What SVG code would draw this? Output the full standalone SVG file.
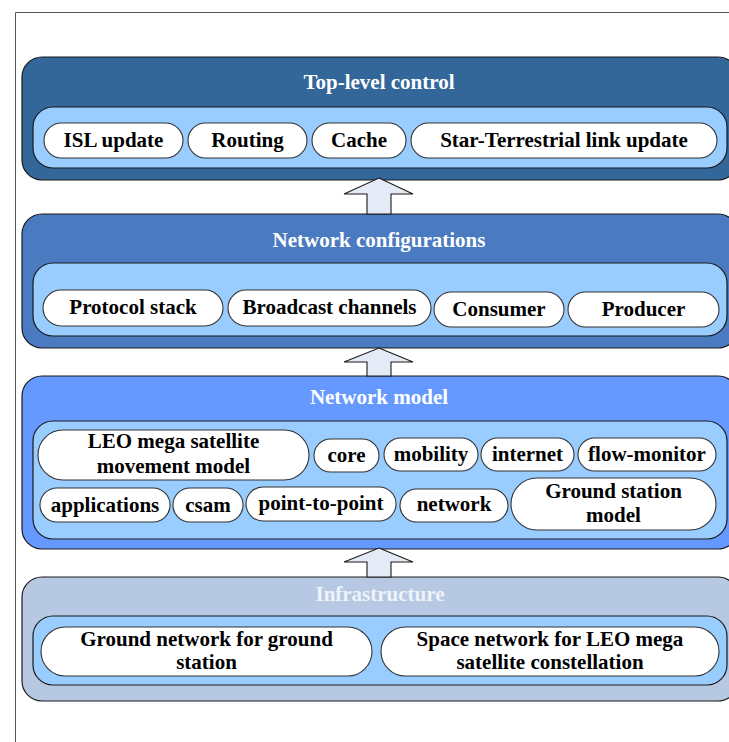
<svg xmlns="http://www.w3.org/2000/svg" width="729" height="742" viewBox="0 0 729 742">
<style>
.frame{fill:none;stroke:#555;stroke-width:1}
.layer{stroke:#1a1a1a;stroke-width:1.2}
.inner{fill:#99ccff;stroke:#1a1a1a;stroke-width:1.2}
.pill{fill:#fff;stroke:#333;stroke-width:1.1}
.arrow{fill:#e4ebf6;stroke:#1a1a1a;stroke-width:1.1;stroke-linejoin:miter}
text{font-family:"Liberation Serif","Times New Roman",serif;font-weight:bold;font-size:21px;text-anchor:middle}
.title{fill:#fff}
.label{fill:#000}
</style>
<rect width="729" height="742" fill="#fff"/>
<path class="frame" d="M15.5 742 V12.5 H729"/>

<g id="top-level-control">
  <rect class="layer" x="22" y="57" width="716" height="123" rx="20" fill="#336699"/>
  <text class="title" x="379" y="89">Top-level control</text>
  <rect class="inner" x="33" y="107" width="694" height="61" rx="20"/>
  <g id="isl-update"><rect class="pill" x="44" y="123" width="139" height="35" rx="17.5"/><text class="label" x="113.5" y="147">ISL update</text></g>
  <g id="routing"><rect class="pill" x="188" y="123" width="119" height="35" rx="17.5"/><text class="label" x="247.5" y="147">Routing</text></g>
  <g id="cache"><rect class="pill" x="312" y="123" width="94" height="35" rx="17.5"/><text class="label" x="359" y="147">Cache</text></g>
  <g id="star-terrestrial"><rect class="pill" x="411" y="123" width="306" height="35" rx="17.5"/><text class="label" x="564" y="147">Star-Terrestrial link update</text></g>
</g>

<g id="network-configurations">
  <rect class="layer" x="22" y="214" width="716" height="134" rx="20" fill="#4a7bc0"/>
  <text class="title" x="379" y="247">Network configurations</text>
  <rect class="inner" x="33" y="263" width="694" height="73" rx="20"/>
  <g id="protocol-stack"><rect class="pill" x="43" y="290" width="180" height="36" rx="18"/><text class="label" x="133" y="314">Protocol stack</text></g>
  <g id="broadcast-channels"><rect class="pill" x="228" y="290" width="203" height="36" rx="18"/><text class="label" x="329.5" y="314">Broadcast channels</text></g>
  <g id="consumer"><rect class="pill" x="434" y="292" width="130" height="35" rx="17.5"/><text class="label" x="499" y="316">Consumer</text></g>
  <g id="producer"><rect class="pill" x="568" y="292" width="151" height="35" rx="17.5"/><text class="label" x="643.5" y="316">Producer</text></g>
</g>

<g id="network-model">
  <rect class="layer" x="22" y="376" width="716" height="173" rx="20" fill="#6699ff"/>
  <text class="title" x="379" y="404">Network model</text>
  <rect class="inner" x="33" y="421" width="694" height="118" rx="20"/>
  <g id="leo-movement"><rect class="pill" x="38" y="430" width="271" height="50" rx="25"/><text class="label" x="173.5" y="448">LEO mega satellite</text><text class="label" x="173.5" y="473">movement model</text></g>
  <g id="core"><rect class="pill" x="314" y="439" width="65" height="33" rx="16.5"/><text class="label" x="346.5" y="462">core</text></g>
  <g id="mobility"><rect class="pill" x="384" y="438" width="94" height="33" rx="16.5"/><text class="label" x="431" y="461">mobility</text></g>
  <g id="internet"><rect class="pill" x="481" y="438" width="93" height="33" rx="16.5"/><text class="label" x="527.5" y="461">internet</text></g>
  <g id="flow-monitor"><rect class="pill" x="578" y="438" width="138" height="33" rx="16.5"/><text class="label" x="647" y="461">flow-monitor</text></g>
  <g id="applications"><rect class="pill" x="40" y="488" width="130" height="34" rx="17"/><text class="label" x="105" y="512">applications</text></g>
  <g id="csam"><rect class="pill" x="173" y="488" width="70" height="34" rx="17"/><text class="label" x="208" y="512">csam</text></g>
  <g id="point-to-point"><rect class="pill" x="246" y="487" width="150" height="34" rx="17"/><text class="label" x="321" y="510">point-to-point</text></g>
  <g id="network"><rect class="pill" x="400" y="489" width="108" height="33" rx="16.5"/><text class="label" x="454" y="511">network</text></g>
  <g id="ground-station-model"><rect class="pill" x="511" y="478" width="205" height="52" rx="26"/><text class="label" x="613.5" y="498">Ground station</text><text class="label" x="613.5" y="522">model</text></g>
</g>

<g id="infrastructure">
  <rect class="layer" x="22" y="577" width="716" height="124" rx="20" fill="#b7c9e2"/>
  <text x="380" y="601" fill="#eef3fb">Infrastructure</text>
  <rect class="inner" x="33" y="616" width="694" height="69" rx="20"/>
  <g id="ground-network"><rect class="pill" x="41" y="627" width="331" height="49" rx="24.5"/><text class="label" x="206.5" y="646">Ground network for ground</text><text class="label" x="206.5" y="669">station</text></g>
  <g id="space-network"><rect class="pill" x="381" y="627" width="338" height="49" rx="24.5"/><text class="label" x="550" y="646">Space network for LEO mega</text><text class="label" x="550" y="669">satellite constellation</text></g>
</g>

<g id="connectors">
  <polygon class="arrow" points="379,178 413,194 391,194 391,214 367,214 367,194 344,194"/>
  <polygon class="arrow" points="379,348 413,362 391,362 391,376 367,376 367,362 344,362"/>
  <polygon class="arrow" points="379,548 413,562 391,562 391,577 367,577 367,562 344,562"/>
</g>
</svg>
